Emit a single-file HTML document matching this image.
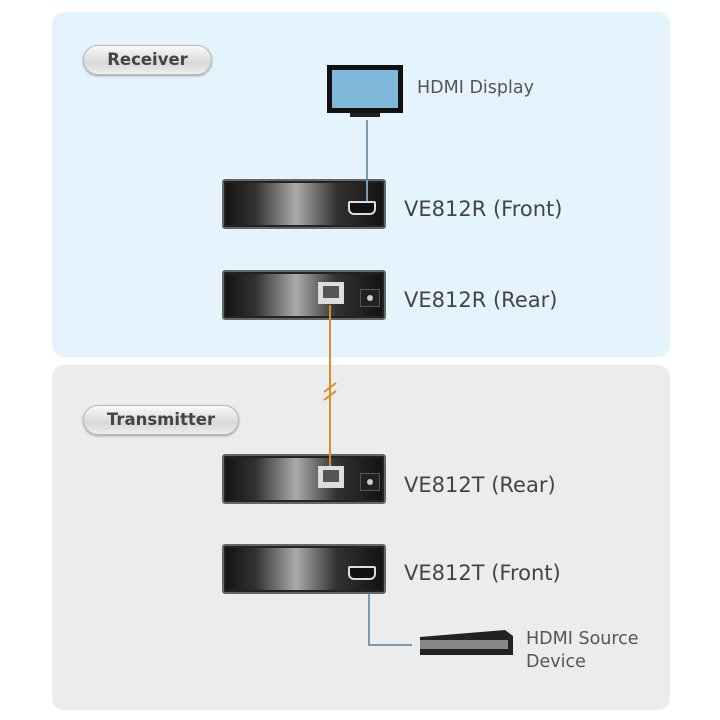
<!DOCTYPE html>
<html><head><style>
body{margin:0;width:720px;height:720px;background:#fff;position:relative;overflow:hidden;font-family:"DejaVu Sans","Liberation Sans",sans-serif}
.p{position:absolute;border-radius:12px}
.pill{position:absolute;border-radius:15px;background:linear-gradient(#fafafa,#d8d8d8 60%,#eee);border:1px solid #bbb;box-shadow:0 1px 2px #999;font-weight:bold;color:#444;font-size:16.5px;text-align:center;line-height:28px}
.dev{position:absolute;left:222px;width:160px;height:46px;border:2px solid #666;border-radius:3px;background:linear-gradient(90deg,#111,#333 20%,#aaa 45%,#333 70%,#111);box-shadow:inset 0 0 0 2px #222}
.lbl{position:absolute;left:404px;font-size:21px;color:#444}
.s{position:absolute;font-size:17.5px;color:#555}
.rj{position:absolute;width:26px;height:22px;background:#ddd}
.rj:after{content:"";position:absolute;left:5px;top:4px;width:16px;height:12px;background:#555}
.pw{position:absolute;width:18px;height:16px;background:#222;border:1px solid #555}
.pw:after{content:"";position:absolute;left:6px;top:5px;width:6px;height:6px;border-radius:50%;background:#ccc}
.hd{position:absolute;width:24px;height:10px;border:2px solid #ddd;border-radius:2px 2px 6px 6px;background:#111}
</style></head><body>
<div class="p" style="left:52px;top:12px;width:618px;height:345px;background:#e4f3fc"></div>
<div class="p" style="left:52px;top:365px;width:618px;height:345px;background:#ececec"></div>
<div class="pill" style="left:83px;top:45px;width:127px;height:28px">Receiver</div>
<div class="pill" style="left:83px;top:405px;width:154px;height:28px">Transmitter</div>
<svg style="position:absolute;left:0;top:0" width="720" height="720">
<rect x="327" y="65" width="76" height="48" fill="#111"/>
<rect x="332" y="70" width="66" height="38" fill="#7fb7d8"/>
<rect x="350" y="113" width="30" height="4" fill="#222"/>
<line x1="367" y1="120" x2="367" y2="205" stroke="#7a9cb0" stroke-width="2"/>
<line x1="330" y1="305" x2="330" y2="462" stroke="#e08a2a" stroke-width="2"/>
<line x1="324" y1="392" x2="336" y2="383" stroke="#e08a2a" stroke-width="2"/>
<line x1="324" y1="400" x2="336" y2="391" stroke="#e08a2a" stroke-width="2"/>
<polyline points="369,592 369,645 412,645" fill="none" stroke="#7a9cb0" stroke-width="2"/>
<polygon points="420,637 505,630 513,636 513,655 420,655" fill="#222"/>
<rect x="420" y="640" width="88" height="9" fill="#888"/>
</svg>
<div class="dev" style="top:179px"><div class="hd" style="left:124px;top:20px"></div></div>
<div class="dev" style="top:270px"><div class="rj" style="left:94px;top:10px"></div><div class="pw" style="left:136px;top:17px"></div></div>
<div class="dev" style="top:454px"><div class="rj" style="left:94px;top:10px"></div><div class="pw" style="left:136px;top:17px"></div></div>
<div class="dev" style="top:544px"><div class="hd" style="left:124px;top:20px"></div></div>
<svg style="position:absolute;left:0;top:0" width="720" height="720"><line x1="330" y1="305" x2="330" y2="322" stroke="#e08a2a" stroke-width="2"/><line x1="330" y1="452" x2="330" y2="466" stroke="#e08a2a" stroke-width="2"/><line x1="367" y1="180" x2="367" y2="201" stroke="#7a9cb0" stroke-width="2"/></svg>
<div class="s" style="left:417px;top:78px">HDMI Display</div>
<div class="lbl" style="top:197px">VE812R (Front)</div>
<div class="lbl" style="top:288px">VE812R (Rear)</div>
<div class="lbl" style="top:473px">VE812T (Rear)</div>
<div class="lbl" style="top:561px">VE812T (Front)</div>
<div class="s" style="left:526px;top:628px;line-height:23px">HDMI Source<br>Device</div>
</body></html>
